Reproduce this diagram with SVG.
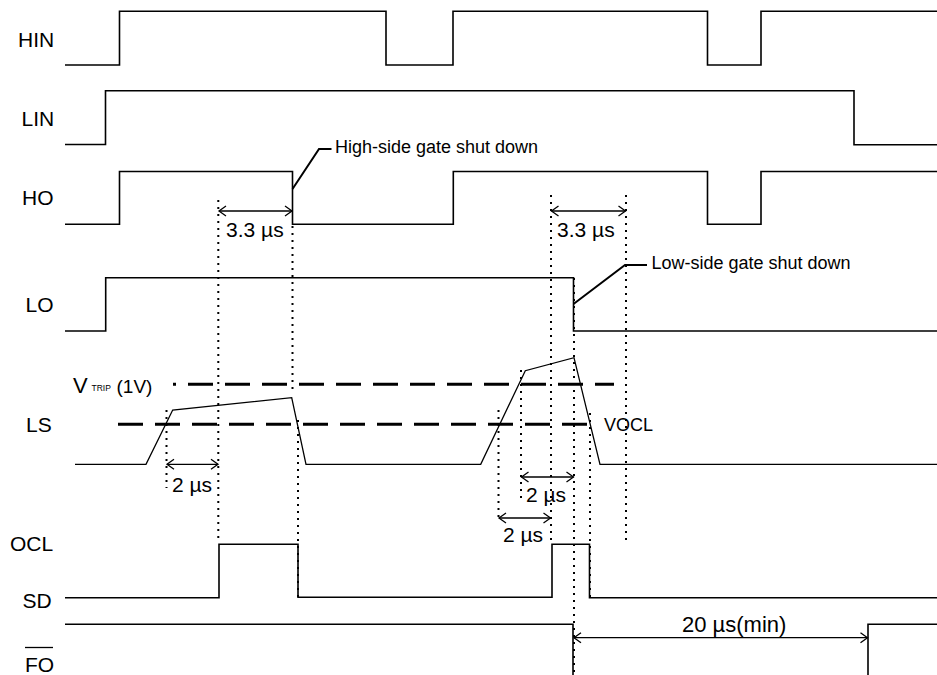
<svg xmlns="http://www.w3.org/2000/svg" width="937" height="675" viewBox="0 0 937 675">
<style>
text{font-family:"Liberation Sans",Arial,sans-serif;fill:#000}
.lbl{font-size:21px}
.meas{font-size:21px}
.ann{font-size:18px}
.sig{fill:none;stroke:#000;stroke-width:1.6}
.ls{fill:none;stroke:#000;stroke-width:1.3}
.dash{fill:none;stroke:#000;stroke-width:3;stroke-dasharray:25 12}
.dot{fill:none;stroke:#000;stroke-width:2;stroke-dasharray:2 5}
.dim{fill:none;stroke:#000;stroke-width:1.3;marker-start:url(#ah);marker-end:url(#ah)}
.lead{fill:none;stroke:#000;stroke-width:2}
</style>
<defs>
<marker id="ah" markerUnits="userSpaceOnUse" markerWidth="10" markerHeight="12" refX="8" refY="6" orient="auto-start-reverse">
<path d="M1,1 L8,6 L1,11" fill="none" stroke="#000" stroke-width="1.3"/>
</marker>
</defs>
<rect width="937" height="675" fill="#fff"/>

<g id="labels">
<text class="lbl" x="18" y="47">HIN</text>
<text class="lbl" x="21.5" y="126">LIN</text>
<text class="lbl" x="22" y="205">HO</text>
<text class="lbl" x="25.5" y="311.5">LO</text>
<text class="lbl" x="26" y="431.5">LS</text>
<text class="lbl" x="10" y="551">OCL</text>
<text class="lbl" x="22.5" y="608">SD</text>
<text class="lbl" x="25" y="671.5">FO</text>
<line x1="25" y1="647.5" x2="53" y2="647.5" stroke="#000" stroke-width="1.3"/>
</g>

<g id="HIN"><path class="sig" d="M65,65 H119.5 V11.3 H386 V65 H453 V11.3 H707.5 V65 H761 V11.3 H937"/></g>
<g id="LIN"><path class="sig" d="M65,144.5 H105.5 V90.7 H854 V144.7 H937"/></g>
<g id="HO"><path class="sig" d="M65,224.3 H119.5 V171.5 H292.5 V224.3 H453.3 V171.5 H707.5 V224.3 H761 V171.5 H937"/></g>
<g id="LO"><path class="sig" d="M65,331 H105.7 V277.7 H573.5 V331 H937"/></g>
<g id="LS">
<path class="ls" d="M75,464.3 H146 L172.7,410 L291.7,397.7 L306,464.3 H480.7 L525.3,370.7 L574,357.7 L600,464.3 H937"/>
<line class="dash" x1="173" y1="384.3" x2="614" y2="384.3" style="stroke-dashoffset:22"/>
<line class="dash" x1="118" y1="424.3" x2="598" y2="424.3"/>
<text x="73" y="392.5" style="font-size:22px">V</text>
<text x="91.5" y="391" style="font-size:8.5px">TRIP</text>
<text x="116.5" y="392.5" style="font-size:19px">(1V)</text>
<text class="ann" x="604" y="431">VOCL</text>
</g>
<g id="OCL_SD"><path class="sig" d="M65,597.7 H219 V544.3 H298 V597.3 H552 V544.3 H589.5 V597.7 H937"/></g>
<g id="FO"><path class="sig" d="M65,624.3 H573 V677 M868,677 V624.3 H937"/></g>

<g id="connectors">
<line class="dot" x1="218.3" y1="200" x2="218.3" y2="541"/>
<line class="dot" x1="292.5" y1="226" x2="292.5" y2="392"/>
<line class="dot" x1="298" y1="420" x2="298" y2="597"/>
<line class="dot" x1="166.5" y1="410" x2="166.5" y2="488"/>
<line class="dot" x1="498.5" y1="410" x2="498.5" y2="521"/>
<line class="dot" x1="521" y1="370" x2="521" y2="500"/>
<line class="dot" x1="551" y1="195" x2="551" y2="543"/>
<line class="dot" x1="574" y1="278" x2="574" y2="675"/>
<line class="dot" x1="590" y1="413" x2="590" y2="597"/>
<line class="dot" x1="626" y1="195" x2="626" y2="543"/>

<line class="dim" x1="219" y1="211" x2="292" y2="211"/>
<line class="dim" x1="551.5" y1="211" x2="625.5" y2="211"/>
<line class="dim" x1="167" y1="464.3" x2="218" y2="464.3"/>
<line class="dim" x1="521.5" y1="477" x2="573.5" y2="477"/>
<line class="dim" x1="499" y1="518" x2="550.5" y2="518"/>
<line class="dim" x1="574" y1="637.7" x2="867.5" y2="637.7"/>

<text class="meas" x="226" y="237">3.3 µs</text>
<text class="meas" x="557" y="237">3.3 µs</text>
<text class="meas" x="172" y="492">2 µs</text>
<text class="meas" x="526" y="502">2 µs</text>
<text class="meas" x="503" y="542">2 µs</text>
<text class="meas" x="682" y="632" style="font-size:22px">20 µs(min)</text>

<polyline class="lead" points="292.5,189 319,149 331.5,149"/>
<text class="ann" x="335" y="153">High-side gate shut down</text>
<polyline class="lead" points="573.5,304 625,265 647,265"/>
<text class="ann" x="651.5" y="269">Low-side gate shut down</text>
</g>
</svg>
